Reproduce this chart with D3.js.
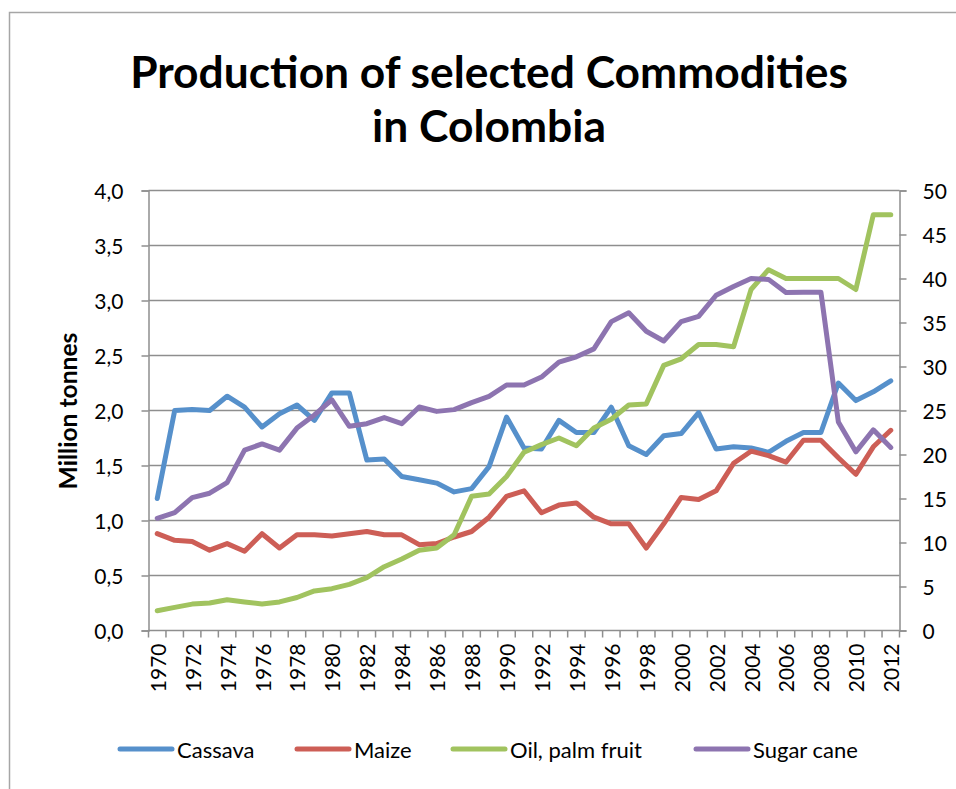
<!DOCTYPE html>
<html>
<head>
<meta charset="utf-8">
<script src="https://cdn.jsdelivr.net/npm/d3@7"></script>
<style>
  html, body { margin: 0; padding: 0; background: #fff; }
  svg { display: block; font-family: Lato, "Open Sans", sans-serif; }
</style>
</head>
<body>
<svg id="chart" width="956" height="789"></svg>
<script>
// Production in Colombia, 1970–2012
const years = d3.range(1970, 2013);
// million tonnes (left axis)
const cassava = [1.20, 2.00, 2.01, 2.00, 2.13, 2.03, 1.85, 1.97, 2.05, 1.91,
                 2.16, 2.16, 1.55, 1.56, 1.40, 1.37, 1.34, 1.26, 1.29, 1.49,
                 1.94, 1.66, 1.65, 1.91, 1.80, 1.80, 2.03, 1.68, 1.60, 1.77,
                 1.79, 1.98, 1.65, 1.67, 1.66, 1.62, 1.72, 1.80, 1.80, 2.25,
                 2.09, 2.17, 2.27];
const maize = [0.88, 0.82, 0.81, 0.73, 0.79, 0.72, 0.88, 0.75, 0.87, 0.87,
               0.86, 0.88, 0.90, 0.87, 0.87, 0.78, 0.79, 0.85, 0.90, 1.03,
               1.22, 1.27, 1.07, 1.14, 1.16, 1.03, 0.97, 0.97, 0.75, 0.97,
               1.21, 1.19, 1.27, 1.52, 1.63, 1.59, 1.53, 1.73, 1.73, 1.57,
               1.42, 1.67, 1.82];
const palmFruit = [0.18, 0.21, 0.24, 0.25, 0.28, 0.26, 0.24, 0.26, 0.30, 0.36,
                   0.38, 0.42, 0.48, 0.58, 0.65, 0.73, 0.75, 0.87, 1.22, 1.24,
                   1.40, 1.62, 1.69, 1.75, 1.68, 1.84, 1.92, 2.05, 2.06, 2.41,
                   2.47, 2.60, 2.60, 2.58, 3.10, 3.28, 3.20, 3.20, 3.20, 3.20,
                   3.10, 3.78, 3.78];
// million tonnes (right axis)
const sugarCane = [12.75, 13.4, 15.1, 15.6, 16.8, 20.5, 21.2, 20.5, 23.0, 24.5,
                   26.2, 23.2, 23.5, 24.2, 23.5, 25.4, 24.9, 25.1, 25.9, 26.6,
                   27.9, 27.9, 28.8, 30.5, 31.1, 32.0, 35.1, 36.1, 34.0, 32.9,
                   35.1, 35.7, 38.1, 39.1, 40.0, 39.9, 38.4, 38.45, 38.45, 23.7,
                   20.3, 22.8, 20.8];

const leftTicks = d3.range(0, 4.01, 0.5);
const rightTicks = d3.range(0, 51, 5);
const yearLabels = years.filter(y => y % 2 === 0);

const seriesNames = ["Cassava", "Maize", "Oil, palm fruit", "Sugar cane"];
const seriesColors = ["#5690CB", "#CD5E56", "#A1C35F", "#8D74B0"];

const svg = d3.select("#chart");
const plot = { left: 148.5, right: 899.5, top: 190.5, bottom: 630.5 };

// outer chart frame
svg.append("rect")
  .attr("x", 9.5).attr("y", 12.5)
  .attr("width", 980).attr("height", 800)
  .attr("fill", "#fff").attr("stroke", "#a6a6a6").attr("stroke-width", 1.5);

const x = d3.scaleBand().domain(years).range([plot.left, plot.right]).padding(0);
const xc = yr => x(yr) + x.bandwidth() / 2;
const yL = d3.scaleLinear().domain([0, 4]).range([plot.bottom, plot.top]);
const yR = d3.scaleLinear().domain([0, 50]).range([plot.bottom, plot.top]);

const gridColor = "#8e8e8e";
const fmtComma = d => d3.format(".1f")(d).replace(".", ",");

// horizontal gridlines
svg.append("g").selectAll("line")
  .data(leftTicks.filter(d => d > 0))
  .join("line")
  .attr("x1", plot.left).attr("x2", plot.right)
  .attr("y1", d => yL(d)).attr("y2", d => yL(d))
  .attr("stroke", gridColor).attr("stroke-width", 1.5);

// left axis
const leftAxis = svg.append("g")
  .attr("transform", `translate(${plot.left},0)`)
  .call(d3.axisLeft(yL).tickValues(leftTicks).tickFormat(fmtComma)
        .tickSize(7).tickPadding(18));
// right axis
const rightAxis = svg.append("g")
  .attr("transform", `translate(${plot.right},0)`)
  .call(d3.axisRight(yR).tickValues(rightTicks).tickFormat(d3.format("d"))
        .tickSize(7).tickPadding(16));
// bottom axis: ticks on category boundaries, labels on even years
const boundaries = years.map(yr => x(yr)).concat([plot.right]);
const xAxisG = svg.append("g");
xAxisG.append("line")
  .attr("x1", plot.left).attr("x2", plot.right)
  .attr("y1", plot.bottom).attr("y2", plot.bottom)
  .attr("stroke", gridColor).attr("stroke-width", 1.5);
xAxisG.selectAll("line.tick")
  .data(boundaries)
  .join("line").attr("class", "tick")
  .attr("x1", d => d).attr("x2", d => d)
  .attr("y1", plot.bottom).attr("y2", plot.bottom + 7)
  .attr("stroke", gridColor).attr("stroke-width", 1.5);
xAxisG.selectAll("text")
  .data(yearLabels)
  .join("text")
  .attr("transform", d => `translate(${xc(d)},${plot.bottom + 13}) rotate(-90)`)
  .attr("text-anchor", "end")
  .attr("dominant-baseline", "central")
  .attr("font-size", 21)
  .attr("fill", "#000")
  .text(d => d);

[leftAxis, rightAxis].forEach(g => {
  g.select(".domain").attr("stroke", gridColor).attr("stroke-width", 1.5);
  g.selectAll(".tick line").attr("stroke", gridColor).attr("stroke-width", 1.5);
  g.selectAll(".tick text").attr("font-size", 21).attr("fill", "#000")
    .attr("font-family", "Lato, sans-serif").attr("dy", "0.4em");
});

// series lines
const lineL = d3.line().x((d, i) => xc(years[i])).y(d => yL(d));
const lineR = d3.line().x((d, i) => xc(years[i])).y(d => yR(d));
const series = [
  { data: cassava, line: lineL },
  { data: maize, line: lineL },
  { data: palmFruit, line: lineL },
  { data: sugarCane, line: lineR }
];
svg.append("g").selectAll("path")
  .data(series)
  .join("path")
  .attr("d", d => d.line(d.data))
  .attr("fill", "none")
  .attr("stroke", (d, i) => seriesColors[i])
  .attr("stroke-width", 5)
  .attr("stroke-linejoin", "round")
  .attr("stroke-linecap", "round");

// title
function fitText(sel, width, size) {
  sel.attr("font-size", size);
  const w = sel.node().getComputedTextLength();
  sel.attr("font-size", size * width / w);
}
const t1 = svg.append("text").attr("x", 489).attr("y", 88)
  .attr("text-anchor", "middle").attr("font-weight", 700).attr("fill", "#000")
  .text("Production of selected Commodities");
fitText(t1, 718, 40);
const t2 = svg.append("text").attr("x", 489).attr("y", 142)
  .attr("text-anchor", "middle").attr("font-weight", 700).attr("fill", "#000")
  .text("in Colombia");
t2.attr("font-size", t1.attr("font-size"));

// y-axis title
const yt = svg.append("text")
  .attr("transform", "translate(67,411) rotate(-90)")
  .attr("text-anchor", "middle").attr("dominant-baseline", "central")
  .attr("font-weight", 700).attr("fill", "#000")
  .text("Million tonnes");
fitText(yt, 157, 19);

// legend
const legendX = [120, 297, 453, 696];
const lg = svg.append("g").selectAll("g")
  .data(seriesNames)
  .join("g")
  .attr("transform", (d, i) => `translate(${legendX[i]},749)`);
lg.append("line")
  .attr("x1", 0).attr("x2", 52).attr("y1", 0).attr("y2", 0)
  .attr("stroke", (d, i) => seriesColors[i])
  .attr("stroke-width", 5).attr("stroke-linecap", "round");
lg.append("text")
  .attr("x", 57).attr("y", 0)
  .attr("dominant-baseline", "central")
  .attr("font-size", 22).attr("fill", "#000")
  .text(d => d);
</script>
</body>
</html>
